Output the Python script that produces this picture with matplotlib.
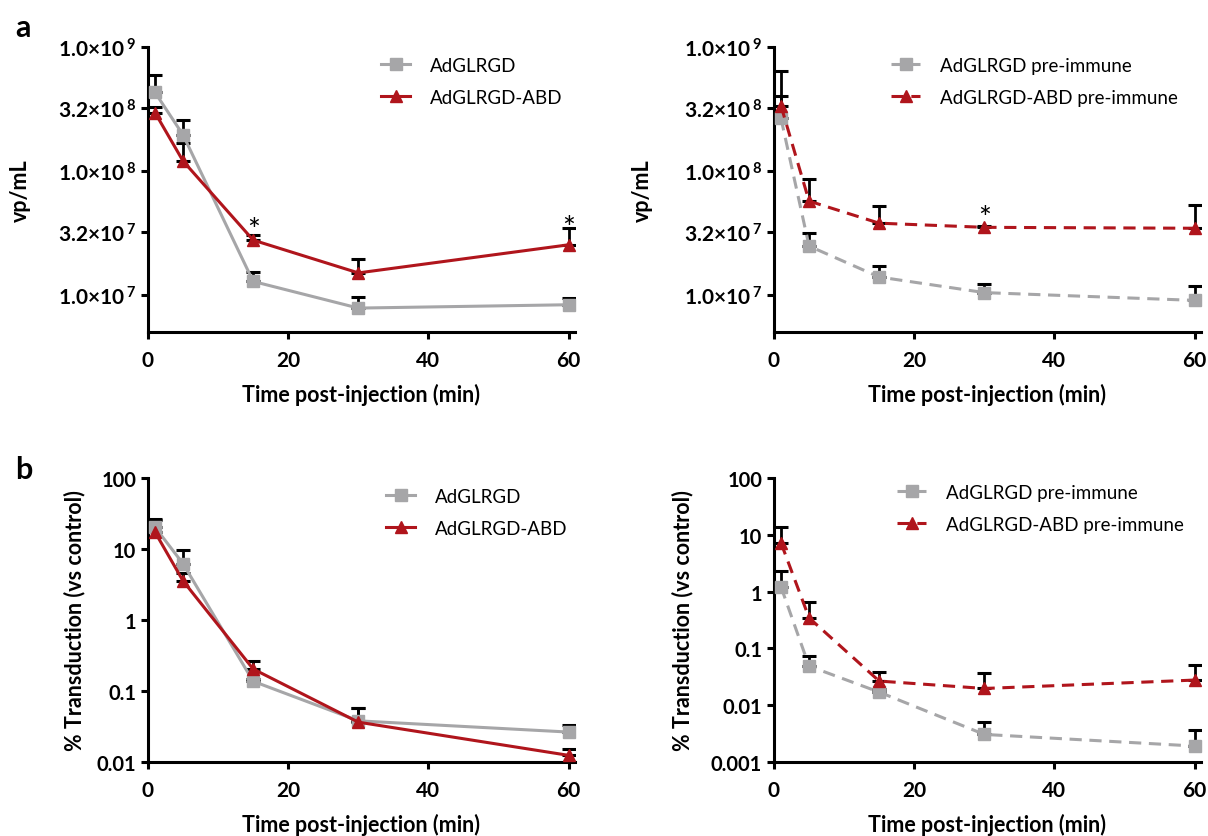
import matplotlib
matplotlib.use("Agg")
import matplotlib.pyplot as plt
from matplotlib.ticker import FixedLocator, NullLocator, FixedFormatter

plt.rcParams['font.family'] = ['Lato', 'DejaVu Sans']
plt.rcParams['mathtext.fontset'] = 'custom'
plt.rcParams['mathtext.rm'] = 'Lato'
plt.rcParams['mathtext.bf'] = 'Lato:bold'
plt.rcParams['mathtext.default'] = 'bf'

time_min = [1, 5, 15, 30, 60]

# Panel a (left): circulating virus, vp/mL
vp_glrgd = [4.3e8, 1.95e8, 1.28e7, 7.8e6, 8.3e6]
vp_glrgd_sem = [1.6e8, 0.62e8, 2.4e6, 1.7e6, 1.1e6]
vp_abd = [2.95e8, 1.2e8, 2.76e7, 1.5e7, 2.53e7]
vp_abd_sem = [0.35e8, 0.47e8, 2.9e6, 4.6e6, 9.5e6]

# Panel a (right): pre-immune mice
vp_glrgd_pre = [2.65e8, 2.47e7, 1.39e7, 1.04e7, 9.0e6]
vp_glrgd_pre_sem = [1.35e8, 6.9e6, 3.0e6, 1.7e6, 2.7e6]
vp_abd_pre = [3.35e8, 5.7e7, 3.78e7, 3.5e7, 3.44e7]
vp_abd_pre_sem = [3.05e8, 2.9e7, 1.42e7, 1.0e6, 1.86e7]

# Panel b (left): % transduction vs control
tr_glrgd = [20.3, 6.2, 0.137, 0.038, 0.0264]
tr_glrgd_sem = [6.3, 3.35, 0.01, 0.020, 0.0063]
tr_abd = [17.3, 3.55, 0.204, 0.0364, 0.0124]
tr_abd_sem = [8.7, 1.05, 0.063, 0.0206, 0.0027]

# Panel b (right): pre-immune mice
tr_glrgd_pre = [1.21, 0.0488, 0.017, 0.00306, 0.00191]
tr_glrgd_pre_sem = [1.08, 0.024, 0.002, 0.002, 0.00175]
tr_abd_pre = [7.2, 0.345, 0.0266, 0.0197, 0.0277]
tr_abd_pre_sem = [6.5, 0.315, 0.0114, 0.0173, 0.0243]

vp_ticks = [1e7, 3.2e7, 1e8, 3.2e8, 1e9]
vp_ticklabels = ['1.0×10$^{\\,7}$', '3.2×10$^{\\,7}$', '1.0×10$^{\\,8}$',
                 '3.2×10$^{\\,8}$', '1.0×10$^{\\,9}$']
tr_ticks_left = [0.01, 0.1, 1, 10, 100]
tr_ticklabels_left = ['0.01', '0.1', '1', '10', '100']
tr_ticks_right = [0.001, 0.01, 0.1, 1, 10, 100]
tr_ticklabels_right = ['0.001', '0.01', '0.1', '1', '10', '100']
x_ticks = [0, 20, 40, 60]

# time points flagged as significant (ABD vs control series)
stars_a_left = [15, 60]
stars_a_right = [30]

GREY = '#a6a6a8'
RED = '#b0151c'

W, H = 1208, 837
fig = plt.figure(figsize=(W / 100, H / 100), dpi=100)


def add_axes_px(left, top, right, bottom):
    return fig.add_axes([left / W, 1 - bottom / H, (right - left) / W, (bottom - top) / H])


def style_axes(ax, yticks, yticklabels, ylim, ylabel, ytick_size):
    ax.set_yscale('log')
    ax.set_xlim(0, 60.9)
    ax.set_ylim(*ylim)
    for s in ('top', 'right'):
        ax.spines[s].set_visible(False)
    for s in ('left', 'bottom'):
        ax.spines[s].set_linewidth(2.2)
    ax.xaxis.set_major_locator(FixedLocator(x_ticks))
    ax.set_xticklabels([str(t) for t in x_ticks], fontsize=15, fontweight='bold')
    ax.yaxis.set_major_locator(FixedLocator(yticks))
    ax.yaxis.set_major_formatter(FixedFormatter(yticklabels))
    ax.yaxis.set_minor_locator(NullLocator())
    for lab in ax.get_yticklabels():
        lab.set_fontsize(ytick_size)
        lab.set_fontweight('bold')
    ax.tick_params(axis='both', which='major', direction='out', length=5, width=2.2, pad=3.5)
    ax.tick_params(axis='x', pad=8)
    ax.set_xlabel('Time post-injection (min)', fontsize=15.5, fontweight='bold', labelpad=9)
    ax.set_ylabel(ylabel, fontsize=15.5, fontweight='bold')


def draw_series(ax, y, err, color, marker, ls, label):
    ax.errorbar(time_min, y, yerr=[[0] * len(y), err], fmt='none', ecolor='black',
                elinewidth=2.0, capsize=5, capthick=2.2, zorder=2)
    ax.plot(time_min, y, color=color, lw=2.2, ls=ls, marker=marker, ms=8.5,
            markeredgecolor=color, markerfacecolor=color, label=label, zorder=3,
            clip_on=False, dashes=(4, 2.5) if ls == '--' else (None, None))


def add_legend(ax, x_px, y_px):
    ax.legend(loc='upper left', bbox_to_anchor=(x_px / W, 1 - y_px / H),
              bbox_transform=fig.transFigure, frameon=False, fontsize=13.5,
              handlelength=1.55, handletextpad=1.05, labelspacing=0.8,
              borderpad=0, borderaxespad=0, numpoints=1)


def add_stars(ax, xs, ys, errs, offsets):
    for t, off in zip(xs, offsets):
        i = time_min.index(t)
        ax.annotate('*', (t, ys[i] + errs[i]), xytext=(0, off), textcoords='offset points',
                    ha='center', va='baseline', fontsize=22)


# ---- a, left
ax1 = add_axes_px(148, 48, 575, 333)
draw_series(ax1, vp_glrgd, vp_glrgd_sem, GREY, 's', '-', 'AdGLRGD')
draw_series(ax1, vp_abd, vp_abd_sem, RED, '^', '-', 'AdGLRGD-ABD')
style_axes(ax1, vp_ticks, vp_ticklabels, (5.0e6, 1e9), 'vp/mL', 15)
ax1.yaxis.set_label_coords(-117 / 427, 0.5)
add_legend(ax1, 381, 58)
add_stars(ax1, stars_a_left, vp_abd, vp_abd_sem, [-3, -7])

# ---- a, right
ax2 = add_axes_px(774, 48, 1201, 333)
draw_series(ax2, vp_glrgd_pre, vp_glrgd_pre_sem, GREY, 's', '--', 'AdGLRGD pre-immune')
draw_series(ax2, vp_abd_pre, vp_abd_pre_sem, RED, '^', '--', 'AdGLRGD-ABD pre-immune')
style_axes(ax2, vp_ticks, vp_ticklabels, (5.0e6, 1e9), 'vp/mL', 15)
ax2.yaxis.set_label_coords(-121 / 427, 0.5)
add_legend(ax2, 891, 58)
add_stars(ax2, stars_a_right, vp_abd_pre, vp_abd_pre_sem, [-1])

# ---- b, left
ax3 = add_axes_px(148, 479, 575, 763)
draw_series(ax3, tr_glrgd, tr_glrgd_sem, GREY, 's', '-', 'AdGLRGD')
draw_series(ax3, tr_abd, tr_abd_sem, RED, '^', '-', 'AdGLRGD-ABD')
style_axes(ax3, tr_ticks_left, tr_ticklabels_left, (0.01, 100), '% Transduction (vs control)', 14.5)
ax3.yaxis.set_label_coords(-63 / 427, 0.5)
add_legend(ax3, 386, 489)

# ---- b, right
ax4 = add_axes_px(774, 479, 1201, 763)
draw_series(ax4, tr_glrgd_pre, tr_glrgd_pre_sem, GREY, 's', '--', 'AdGLRGD pre-immune')
draw_series(ax4, tr_abd_pre, tr_abd_pre_sem, RED, '^', '--', 'AdGLRGD-ABD pre-immune')
style_axes(ax4, tr_ticks_right, tr_ticklabels_right, (0.001, 100), '% Transduction (vs control)', 14.5)
ax4.yaxis.set_label_coords(-81 / 427, 0.5)
add_legend(ax4, 897, 485)

# panel letters
fig.text(15 / W, 1 - 28 / H, 'a', fontsize=22, fontweight='bold', va='center', ha='left')
fig.text(15 / W, 1 - 470 / H, 'b', fontsize=22, fontweight='bold', va='center', ha='left')

fig.savefig('out.png', dpi=100)
